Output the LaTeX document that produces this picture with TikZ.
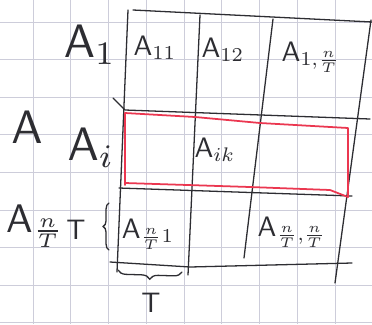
\documentclass[tikz,border=0pt]{standalone}
\usepackage{amsmath}
\definecolor{gridline}{RGB}{205,205,218}
\definecolor{pencil}{RGB}{45,45,50}
\definecolor{marker}{RGB}{235,55,80}
\usetikzlibrary{decorations.pathreplacing}
\newcommand{\bigA}[1]{\scalebox{4}{$#1$}}
\newcommand{\cellA}[1]{\scalebox{2.4}{$#1$}}

\begin{document}
\begin{tikzpicture}[
    x=0.03cm, y=-0.03cm,
    paper/.style={draw=gridline, line width=0.8pt},
    pen/.style={draw=pencil, line width=1.1pt, line cap=round},
    redpen/.style={draw=marker, line width=1.5pt, line cap=round, line join=round},
    bigsym/.style={text=pencil, inner sep=0pt},
    cellsym/.style={text=pencil, inner sep=0pt},
  ]
  \useasboundingbox[fill=white] (0,0) rectangle (372,324);

  %% --- squared paper ---
  \foreach \i in {0,...,8}
    \draw[paper] ({33+37.75*\i},0) -- ({33+37.75*\i},324);
  \foreach \j in {0,...,8}
    \draw[paper] (0,{22+37.6*\j}) -- (372,{22+37.6*\j});

  %% --- corners of the blocks ---
  \coordinate (lt) at (128,10);   \coordinate (lb) at (117,272);
  \coordinate (c2t) at (200,15);  \coordinate (c2b) at (188,275);
  \coordinate (c3t) at (273,19);  \coordinate (c3b) at (244,258);
  \coordinate (rt) at (371,20);   \coordinate (rb) at (335,283);
  \coordinate (topl) at (133,10); \coordinate (topr) at (372,22);
  \coordinate (r1l) at (125,110); \coordinate (r1r) at (370,119);
  \coordinate (r2l) at (119,188); \coordinate (r2r) at (352,196);
  \coordinate (botl) at (110,262); \coordinate (botr) at (352,263);

  %% --- the matrix ---
  \draw[pen] (topl) -- (topr);
  \draw[pen] (lt) -- (lb);
  \draw[pen] (c2t) -- (c2b);
  \draw[pen] (c3t) -- (c3b);
  \draw[pen] (rt) -- (rb);
  \draw[pen] (113,98) -- (r1l) -- (r1r);
  \draw[pen] (r2l) -- (r2r);
  \draw[pen] (botl) -- (190,267) -- (botr);

  %% --- marked row block ---
  \draw[redpen] (125,185) -- (125,113) -- (195,117) -- (260,123) -- (348,128)
    -- (348,197) -- (330,190) -- (250,187) -- (125,183);

  %% --- labels ---
  \node[bigsym] (a)    at (27,127)  {\bigA{\mathsf{A}}};
  \node[bigsym] (a1)   at (90,45)   {\bigA{\mathsf{A}_1}};
  \node[bigsym] (ai)   at (91,148)  {\bigA{\mathsf{A}_i}};
  \node[bigsym, anchor=west] (alst) at (6,226)
    {\scalebox{3.4}{$\mathsf{A}_{\frac{n}{T}}$}};
  \node[cellsym] (ht)  at (76,230)  {\cellA{\mathsf{T}}};

  \node[cellsym] (a11)  at (155,48)  {\cellA{\mathsf{A}_{11}}};
  \node[cellsym] (a12)  at (223,50)  {\cellA{\mathsf{A}_{12}}};
  \node[cellsym] (a1n)  at (311,57)  {\cellA{\mathsf{A}_{1,\frac{n}{T}}}};
  \node[cellsym] (aik)  at (215,150) {\cellA{\mathsf{A}_{ik}}};
  \node[cellsym] (an1)  at (148,234) {\cellA{\mathsf{A}_{\frac{n}{T}1}}};
  \node[cellsym] (ann)  at (292,232) {\cellA{\mathsf{A}_{\frac{n}{T},\frac{n}{T}}}};

  %% --- block sizes ---
  \coordinate (hb) at (109,250); \coordinate (ht2) at (109,203);
  \draw[pen, decorate, decoration={brace, amplitude=5pt}] (hb) -- (ht2);
  \coordinate (wl) at (118,270); \coordinate (wr) at (182,272);
  \draw[pen, decorate, decoration={brace, mirror, amplitude=7pt}] (wl) -- (wr);
  \node[cellsym] (wt) at (151,303) {\cellA{\mathsf{T}}};
\end{tikzpicture}
\end{document}
